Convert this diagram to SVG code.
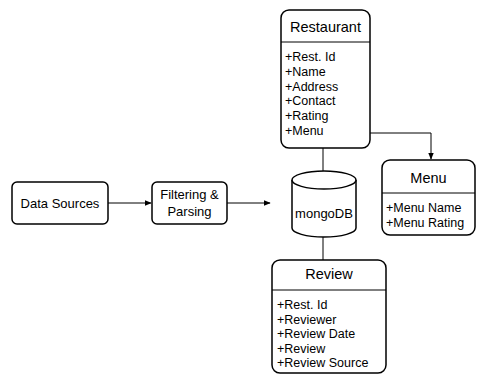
<svg xmlns="http://www.w3.org/2000/svg" width="477" height="376" viewBox="0 0 477 376">
<defs>
<marker id="arr" viewBox="0 0 10 10" refX="9" refY="5" markerWidth="7" markerHeight="7" orient="auto" markerUnits="userSpaceOnUse">
<path d="M0,1 L10,5 L0,9 Z" fill="#000"/>
</marker>
<style>
.box{fill:#fff;stroke:#000;stroke-width:1.5}
.ln{fill:none;stroke:#000;stroke-width:1}
.t{font-family:"Liberation Sans",Arial,sans-serif;font-size:13px;fill:#000}
.h{font-family:"Liberation Sans",Arial,sans-serif;font-size:14.5px;fill:#000}
.a{font-family:"Liberation Sans",Arial,sans-serif;font-size:12.5px;fill:#000}
</style>
</defs>
<rect width="477" height="376" fill="#fff"/>
<g id="connectors">
<line class="ln" x1="108" y1="203" x2="151" y2="203" marker-end="url(#arr)"/>
<line class="ln" x1="227" y1="203" x2="270" y2="203" marker-end="url(#arr)"/>
<line class="ln" x1="323" y1="148" x2="323" y2="171"/>
<polyline class="ln" points="370,133 431,133 431,159" marker-end="url(#arr)"/>
<line class="ln" x1="323" y1="237" x2="323" y2="260"/>
</g>
<g id="data-sources">
<rect class="box" x="12" y="182" width="96" height="42" rx="5" stroke-width="1"/>
<text class="t" x="60" y="208" text-anchor="middle">Data Sources</text>
</g>
<g id="filtering">
<rect class="box" x="152" y="182" width="75" height="42" rx="5" stroke-width="1"/>
<text class="t" x="189.5" y="199" text-anchor="middle">Filtering &amp;</text>
<text class="t" x="189.5" y="216" text-anchor="middle">Parsing</text>
</g>
<g id="restaurant">
<rect class="box" x="281" y="10" width="89" height="138" rx="8"/>
<line class="ln" x1="281" y1="42" x2="370" y2="42"/>
<text class="h" x="325.5" y="32" text-anchor="middle">Restaurant</text>
<text class="a" x="285" y="61">+Rest. Id</text>
<text class="a" x="285" y="76">+Name</text>
<text class="a" x="285" y="91">+Address</text>
<text class="a" x="285" y="105">+Contact</text>
<text class="a" x="285" y="120">+Rating</text>
<text class="a" x="285" y="135">+Menu</text>
</g>
<g id="mongodb">
<path class="box" d="M292,180 L292,228 A32,9 0 0 0 356,228 L356,180" stroke-width="1"/>
<ellipse class="box" cx="324" cy="180" rx="32" ry="9" stroke-width="1"/>
<text class="t" x="324" y="218" text-anchor="middle">mongoDB</text>
</g>
<g id="menu">
<rect class="box" x="382" y="160" width="93" height="75" rx="8"/>
<line class="ln" x1="382" y1="193" x2="475" y2="193"/>
<text class="h" x="428.5" y="183" text-anchor="middle">Menu</text>
<text class="a" x="386" y="212">+Menu Name</text>
<text class="a" x="386" y="227">+Menu Rating</text>
</g>
<g id="review">
<rect class="box" x="272" y="260" width="114" height="113" rx="8"/>
<line class="ln" x1="272" y1="290" x2="386" y2="290"/>
<text class="h" x="329" y="279" text-anchor="middle">Review</text>
<text class="a" x="277" y="309">+Rest. Id</text>
<text class="a" x="277" y="323.5">+Reviewer</text>
<text class="a" x="277" y="338">+Review Date</text>
<text class="a" x="277" y="352.5">+Review</text>
<text class="a" x="277" y="367">+Review Source</text>
</g>
</svg>
